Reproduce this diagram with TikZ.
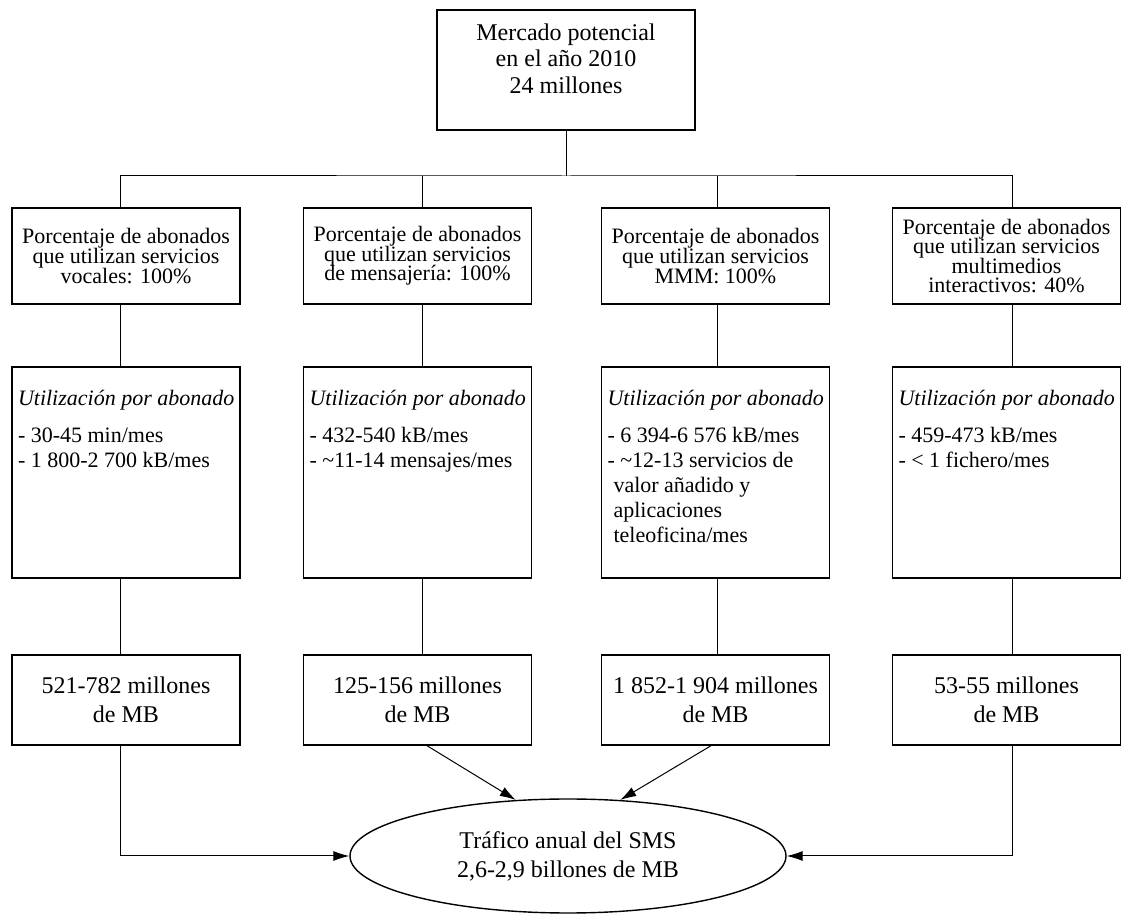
\documentclass[tikz,border=0pt]{standalone}
\usepackage{fontspec}
\setmainfont{Liberation Serif}
\usetikzlibrary{arrows.meta,shapes.geometric}

% top-aligned content of the usage boxes
\newcommand{\usagebox}[1]{\parbox[c][105.5pt][t]{114pt}{%
  \fontsize{11}{12.5}\selectfont\vspace*{11.5pt}%
  \raggedright\leftskip=3pt #1}}
\newcommand{\contline}{\hspace*{3pt}}

\begin{document}
\begin{tikzpicture}[
  x=0.5pt, y=-0.5pt,
  box/.style={rectangle,draw=black,line width=0.7pt,inner sep=0pt},
  pctbox/.style={box,minimum width=114pt,minimum height=48pt,align=center,
                 font={\fontsize{11}{9.8}\selectfont\lineskiplimit=-20pt}},
  mbbox/.style={box,minimum width=114pt,minimum height=45pt,align=center,
                font={\fontsize{12}{14.5}\selectfont}},
  link/.style={line width=0.5pt},
  flow/.style={link,-{Latex[length=8pt,width=5pt]}}
]
\useasboundingbox (0,0) rectangle (1121,914);

% market
\node[box] (top) at (566,70)
  {\parbox[c][60pt][t]{129pt}{\centering\fontsize{12}{13.25}\selectfont
   \vspace*{6.8pt}Mercado potencial\\en el año 2010\\24 millones}};

% share of subscribers
\node[pctbox] (p1) at (126,256)
  {Porcentaje de abonados\\que utilizan servicios\\vocales: 100\%};
\node[pctbox] (p2) at (417.5,256)
  {Porcentaje de abonados\\que utilizan servicios\\de mensajería: 100\%};
\node[pctbox] (p3) at (715.5,256)
  {Porcentaje de abonados\\que utilizan servicios\\MMM: 100\%};
\node[pctbox] (p4) at (1006.5,256)
  {Porcentaje de abonados\\que utilizan servicios\\multimedios\\interactivos: 40\%};

% usage per subscriber
\node[box] (u1) at (126,472.5) {\usagebox{\textit{Utilización por abonado}\\[6pt]
  - 30-45 min/mes\\- 1 800-2 700 kB/mes}};
\node[box] (u2) at (417.5,472.5) {\usagebox{\textit{Utilización por abonado}\\[6pt]
  - 432-540 kB/mes\\- \textasciitilde 11-14 mensajes/mes}};
\node[box] (u3) at (715.5,472.5) {\usagebox{\textit{Utilización por abonado}\\[6pt]
  - 6 394-6 576 kB/mes\\- \textasciitilde 12-13 servicios de\\
  \contline valor añadido y\\\contline aplicaciones\\\contline teleoficina/mes}};
\node[box] (u4) at (1006.5,472.5) {\usagebox{\textit{Utilización por abonado}\\[6pt]
  - 459-473 kB/mes\\- < 1 fichero/mes}};

% traffic per service
\node[mbbox] (r1) at (126,700)    {521-782 millones\\de MB};
\node[mbbox] (r2) at (417.5,700)  {125-156 millones\\de MB};
\node[mbbox] (r3) at (715.5,700)  {1 852-1 904 millones\\de MB};
\node[mbbox] (r4) at (1006.5,700) {53-55 millones\\de MB};

\node[ellipse,draw=black,line width=0.7pt,inner sep=0pt,
      minimum width=218pt,minimum height=57pt,align=center,
      font={\fontsize{12}{14.5}\selectfont}] (sms) at (568,856)
  {Tráfico anual del SMS\\2,6-2,9 billones de MB};

% tree
\coordinate (bus) at (566,176);
\draw[link] (top.south) -- (bus);
\draw[link] ([xshift=-3pt]p1.north) |- (bus) -| ([xshift=2.75pt]p4.north);
\draw[link] ([xshift=2.25pt]p2.north) -- ([xshift=2.25pt]p2.north |- bus);
\draw[link] ([xshift=0.75pt]p3.north) -- ([xshift=0.75pt]p3.north |- bus);
\foreach \n/\s in {1/-3pt,2/2.25pt,3/0.75pt,4/2.75pt} {
  \draw[link] ([xshift=\s]p\n.south) -- ([xshift=\s]u\n.north);
  \draw[link] ([xshift=\s]u\n.south) -- ([xshift=\s]r\n.north);
}

% into the total
\draw[flow] ([xshift=-3pt]r1.south) |- (sms.west);
\draw[flow] ([xshift=2.75pt]r4.south) |- (sms.east);
\draw[flow] ([xshift=4.75pt]r2.south) -- (sms.133);
\draw[flow] ([xshift=-2.25pt]r3.south) -- (sms.47);
\end{tikzpicture}
\end{document}
